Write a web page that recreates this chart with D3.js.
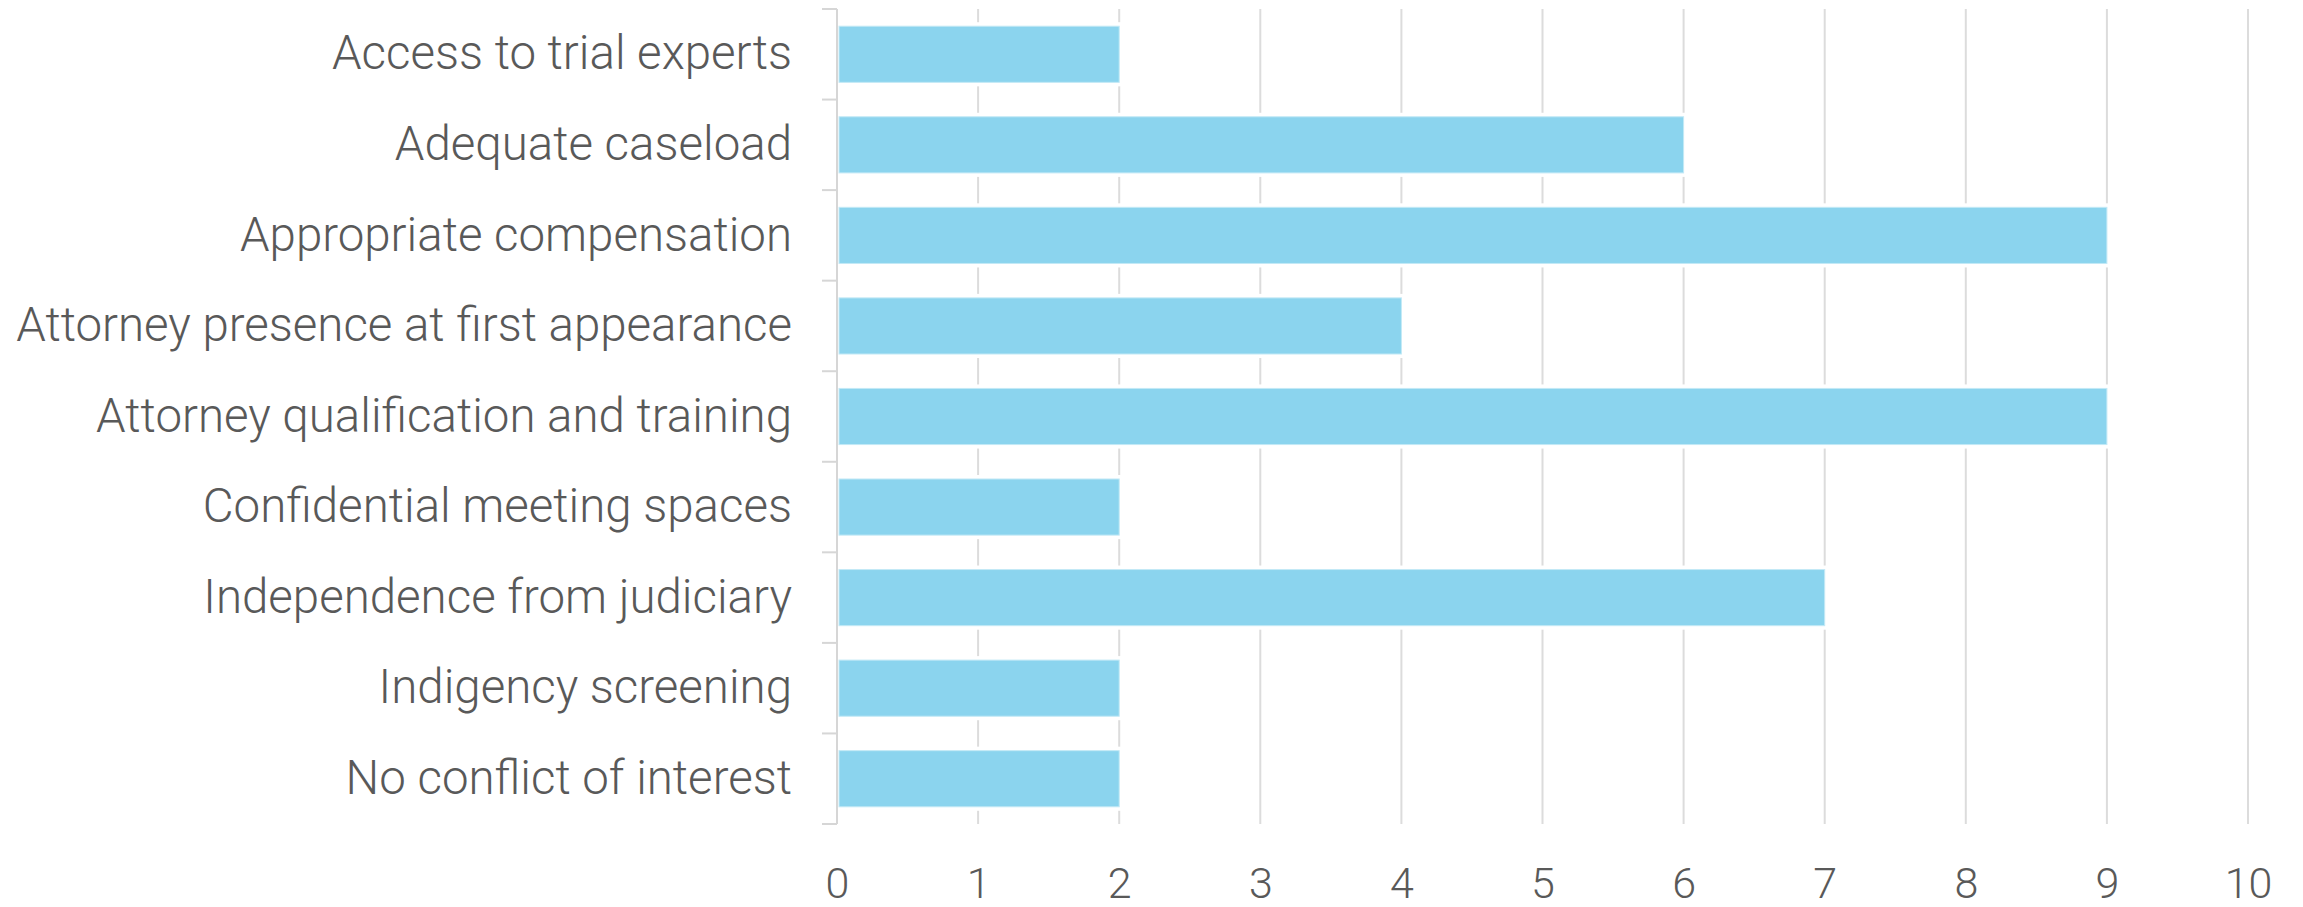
<!DOCTYPE html>
<html>
<head>
<meta charset="utf-8">
<script src="https://cdn.jsdelivr.net/npm/d3@7"></script>
<style>
  body { margin: 0; background: #fff; }
  #graph { width: 2303px; height: 907px; }
  text { font-family: Roboto, "Liberation Sans", sans-serif; font-weight: 300; fill: #595959; }
</style>
</head>
<body>
<div id="graph"></div>
<script>
var margin = { top: 9, right: 55, bottom: 83, left: 837 },
    width = 2303 - margin.left - margin.right,
    height = 907 - margin.top - margin.bottom;

// chart data
var categories = [
    "Access to trial experts",
    "Adequate caseload",
    "Appropriate compensation",
    "Attorney presence at first appearance",
    "Attorney qualification and training",
    "Confidential meeting spaces",
    "Independence from judiciary",
    "Indigency screening",
    "No conflict of interest"
];
var values = [2, 6, 9, 4, 9, 2, 7, 2, 2];
var xTicks = [0, 1, 2, 3, 4, 5, 6, 7, 8, 9, 10];

var data = categories.map((c, i) => ({ name: c, value: values[i] }));

var x = d3.scaleLinear()
    .domain([0, 10])
    .range([0, width]);
var y = d3.scaleBand()
    .domain(categories)
    .range([0, height])
    .paddingInner(0.38)
    .paddingOuter(0.19);

var svg = d3.select("#graph").append("svg")
    .attr("width", 2303)
    .attr("height", 907)
    .append("g")
    .attr("transform", "translate(" + margin.left + "," + margin.top + ")");

// vertical gridlines
svg.append("g")
    .selectAll("line")
    .data(xTicks.slice(1))
    .enter().append("line")
    .attr("x1", d => x(d))
    .attr("x2", d => x(d))
    .attr("y1", 0)
    .attr("y2", height)
    .attr("stroke", "#dcdcdc")
    .attr("stroke-width", 2);

// white halo behind bars
svg.selectAll(".halo")
    .data(data)
    .enter().append("rect")
    .attr("class", "halo")
    .attr("x", x(0) + 1)
    .attr("y", d => y(d.name))
    .attr("width", d => x(d.value) - x(0) - 1)
    .attr("height", y.bandwidth())
    .attr("fill", "#ffffff")
    .attr("stroke", "#ffffff")
    .attr("stroke-width", 8);

// bars
svg.selectAll(".bar")
    .data(data)
    .enter().append("rect")
    .attr("class", "bar")
    .attr("x", x(0) + 2)
    .attr("y", d => y(d.name))
    .attr("width", d => x(d.value) - x(0) - 2)
    .attr("height", y.bandwidth())
    .attr("fill", "#8bd4ee")
    .attr("stroke", "#c3e9f6")
    .attr("stroke-width", 1);

// y axis labels
var yAxis = svg.append("g")
    .call(d3.axisLeft(y).tickSize(0).tickPadding(45));
yAxis.select(".domain").remove();
var yText = yAxis.selectAll("text")
    .style("font-size", "50px")
    .style("fill", "#595959");

// fit the longest label to the width seen in the reference
var longest = d3.max(yText.nodes(), n => n.getComputedTextLength());
var fs = 50 * 776 / longest;
yText.style("font-size", fs + "px");

// y axis ticks between bands
var yEdges = categories.map(c => y(c) - y.step() * y.paddingInner() / 2);
yEdges.push(height);
svg.append("g")
    .selectAll("line")
    .data(yEdges)
    .enter().append("line")
    .attr("x1", -15)
    .attr("x2", 0)
    .attr("y1", d => d)
    .attr("y2", d => d)
    .attr("stroke", "#d6d6d6")
    .attr("stroke-width", 2);
svg.append("line")
    .attr("x1", 0).attr("x2", 0)
    .attr("y1", 0).attr("y2", height)
    .attr("stroke", "#d6d6d6")
    .attr("stroke-width", 2);

// x axis labels
var xAxis = svg.append("g")
    .attr("transform", "translate(0," + height + ")")
    .call(d3.axisBottom(x).tickValues(xTicks).tickSize(0).tickPadding(43));
xAxis.select(".domain").remove();
xAxis.selectAll("text")
    .style("font-size", "43px")
    .style("fill", "#595959");
</script>
</body>
</html>
